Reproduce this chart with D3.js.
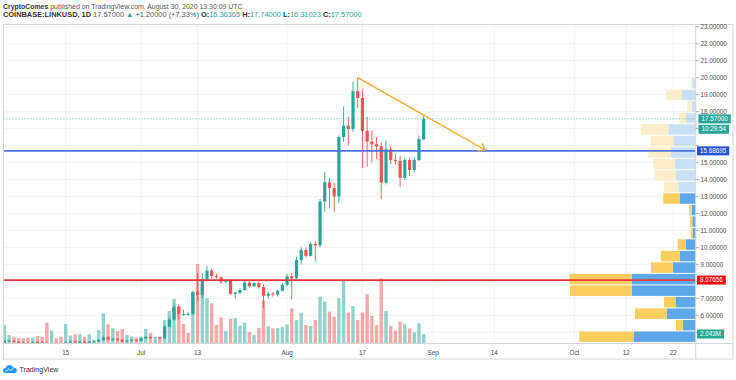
<!DOCTYPE html>
<html><head><meta charset="utf-8">
<script src="https://cdnjs.cloudflare.com/ajax/libs/d3/7.8.5/d3.min.js"></script>
<style>body{margin:0;background:#fff;} svg{display:block;font-family:"Liberation Sans",Arial,sans-serif;}</style>
</head><body><svg id="c" width="736" height="380"></svg>
<script>
// ---------- data ----------
const days = ["2020-06-02","2020-06-03","2020-06-04","2020-06-05","2020-06-06","2020-06-07","2020-06-08","2020-06-09","2020-06-10","2020-06-11",
"2020-06-12","2020-06-13","2020-06-14","2020-06-15","2020-06-16","2020-06-17","2020-06-18","2020-06-19","2020-06-20","2020-06-21",
"2020-06-22","2020-06-23","2020-06-24","2020-06-25","2020-06-26","2020-06-27","2020-06-28","2020-06-29","2020-06-30","2020-07-01",
"2020-07-02","2020-07-03","2020-07-04","2020-07-05","2020-07-06","2020-07-07","2020-07-08","2020-07-09","2020-07-10","2020-07-11",
"2020-07-12","2020-07-13","2020-07-14","2020-07-15","2020-07-16","2020-07-17","2020-07-18","2020-07-19","2020-07-20","2020-07-21",
"2020-07-22","2020-07-23","2020-07-24","2020-07-25","2020-07-26","2020-07-27","2020-07-28","2020-07-29","2020-07-30","2020-07-31",
"2020-08-01","2020-08-02","2020-08-03","2020-08-04","2020-08-05","2020-08-06","2020-08-07","2020-08-08","2020-08-09","2020-08-10",
"2020-08-11","2020-08-12","2020-08-13","2020-08-14","2020-08-15","2020-08-16","2020-08-17","2020-08-18","2020-08-19","2020-08-20",
"2020-08-21","2020-08-22","2020-08-23","2020-08-24","2020-08-25","2020-08-26","2020-08-27","2020-08-28","2020-08-29","2020-08-30"];
const open = [4.38,4.48,4.50,4.44,4.40,4.38,4.36,4.42,4.39,4.37,
4.20,4.32,4.28,4.25,4.40,4.45,4.40,4.43,4.38,4.44,
4.46,4.55,4.70,4.58,4.62,4.55,4.45,4.50,4.55,4.50,
4.65,4.72,4.66,4.70,4.65,5.33,5.75,6.50,6.05,6.04,
6.07,7.40,7.20,8.12,8.63,8.32,8.25,7.98,8.06,7.26,
7.33,7.49,7.93,7.72,7.90,7.66,7.15,7.28,7.22,7.45,
7.79,8.30,8.18,9.26,9.85,9.50,10.20,10.12,12.70,13.84,
13.50,13.00,16.50,17.17,16.97,19.20,18.80,16.86,16.23,16.07,
15.95,13.81,15.78,15.15,15.10,14.10,15.15,14.56,15.15,16.36365];
const high = [4.55,4.56,4.54,4.49,4.45,4.43,4.46,4.47,4.48,4.42,
4.36,4.36,4.33,4.45,4.52,4.50,4.48,4.47,4.48,4.49,
4.60,4.82,4.78,4.66,4.66,4.60,4.54,4.60,4.58,4.68,
4.78,4.76,4.74,4.73,5.42,5.90,6.70,6.62,6.32,6.20,
7.45,8.50,8.48,8.90,8.75,8.45,8.30,8.15,8.12,7.40,
7.60,8.05,8.00,7.95,8.00,7.80,7.40,7.38,7.50,7.90,
8.45,8.50,9.45,10.00,10.00,10.30,10.35,12.85,14.46,14.10,
13.80,16.60,18.30,17.70,19.76,20.00,19.30,17.70,16.90,16.50,
16.20,16.30,15.95,15.50,15.40,15.30,15.30,15.30,16.60,17.74];
const low = [4.30,4.42,4.40,4.36,4.35,4.30,4.33,4.35,4.34,4.10,
4.15,4.25,4.20,4.05,4.35,4.36,4.36,4.33,4.35,4.40,
4.42,4.50,4.52,4.50,4.48,4.40,4.42,4.46,4.46,4.48,
4.60,4.62,4.63,4.60,4.63,5.30,5.70,5.75,5.95,5.98,
6.05,6.85,7.00,8.02,8.15,8.15,7.85,7.90,7.20,7.00,
7.25,7.45,7.60,7.65,7.58,6.40,7.00,7.10,7.10,7.40,
7.70,6.95,8.15,9.00,9.40,9.45,9.17,10.00,12.10,12.30,
12.10,12.60,16.20,16.00,16.80,18.20,14.66,14.76,15.00,15.20,
12.84,13.70,14.90,14.90,13.55,13.95,14.20,14.40,15.10,16.31023];
const close = [4.48,4.50,4.44,4.40,4.38,4.36,4.42,4.39,4.37,4.20,
4.32,4.28,4.25,4.40,4.45,4.40,4.43,4.38,4.44,4.46,
4.55,4.70,4.58,4.62,4.55,4.45,4.50,4.55,4.50,4.65,
4.72,4.66,4.70,4.65,5.33,5.75,6.50,6.10,6.08,6.07,
7.36,7.20,8.12,8.63,8.32,8.25,7.98,8.06,7.26,7.33,
7.49,7.93,7.72,7.90,7.66,7.15,7.28,7.22,7.45,7.79,
8.30,8.18,9.26,9.85,9.50,10.20,10.12,12.70,13.84,13.50,
13.00,16.50,17.17,16.97,19.20,18.80,16.86,16.23,16.07,15.95,
13.81,15.78,15.15,15.10,14.10,15.15,14.56,15.15,16.38,17.57];
// volume, millions of LINK
const volume = [4.02,1.82,1.47,1.10,1.10,1.25,1.25,1.60,1.47,4.55,
2.79,1.10,1.47,4.24,1.69,1.98,1.98,1.47,1.98,0.73,
2.92,6.59,4.18,3.30,2.70,3.14,1.82,1.47,1.25,1.47,
3.14,2.20,0.95,1.47,5.12,7.10,9.74,8.07,4.24,2.31,
11.14,17.43,12.97,9.89,8.79,4.02,5.71,2.64,5.38,5.56,
3.85,4.55,2.53,1.82,3.36,9.45,3.74,3.30,3.34,3.56,
4.13,7.69,5.12,6.75,4.02,3.80,5.12,10.26,9.16,6.97,
5.87,9.89,13.91,6.75,8.20,5.12,6.75,10.77,6.00,4.02,
14.29,7.10,3.80,2.79,4.77,4.24,3.30,2.42,4.40,2.043];

const tickDates = ["2020-06-15","2020-07-01","2020-07-13","2020-08-01","2020-08-17","2020-09-01","2020-09-14","2020-10-01","2020-10-12","2020-10-22"];
const tickLabels = ["15","Jul","13","Aug","17","Sep","14","Oct","12","22"];
const priceTicks = [5,6,7,8,9,10,11,12,13,14,15,16,17,18,19,20,21,22,23];

// volume profile (visible range), rows from low to high
const profileLow = 4.40, profileHigh = 20.0;
const profileUp =   [61.7,13.0,29.0,19.7,64.0,64.0,23.0,15.7,9.7,3.0,3.3,4.0,15.7,17.4,19.7,20.7,25.0,22.4,27.4,9.7,4.0,14.0,3.5];
const profileDown = [54.7,6.7,31.7,12.0,61.7,62.4,21.7,19.0,8.3,2.0,2.3,2.3,16.7,14.3,21.7,21.7,22.4,22.6,27.6,6.7,4.4,15.7,1.0];
const valueAreaRows = 13;

const blueLevel = 15.68695, redLevel = 8.07656, lastPrice = 17.57, lastVolumeLabel = "2.043M", countdown = "10:29:54";
const trendFrom = ["2020-08-16", 20.0], trendTo = ["2020-09-12", 15.75];

// ---------- layout ----------
const svg = d3.select("#c");
const L = 3.5, R = 695.7, T = 24.5, B = 343.3;
const pd = d3.utcParse("%Y-%m-%d");
const x = d3.scaleUtc().domain([pd("2020-06-15"), pd("2020-10-22")]).range([65.7, 673.3]);
const y = d3.scaleLinear().domain([6, 23]).range([315.3, 26.7]);
const yv = d3.scaleLinear().domain([0, 20]).range([B, B - 91]);
const maxProf = d3.max(profileUp.map((u,i)=>u+profileDown[i]));
const pw = d3.scaleLinear().domain([0, maxProf]).range([0, 126.4]);
const rowStep = (profileHigh - profileLow) / profileUp.length;

const green = "#26a69a", red = "#ef5350";

svg.append("defs").append("clipPath").attr("id","plot").append("rect")
  .attr("x", L).attr("y", T).attr("width", R - L).attr("height", B - T);

// grid
const grid = svg.append("g");
priceTicks.forEach(p => {
  if (y(p) > T && y(p) < B) grid.append("line").attr("x1", L).attr("x2", R).attr("y1", y(p)).attr("y2", y(p))
    .attr("stroke", "#f1f3f6").attr("stroke-width", 1);
});
tickDates.forEach(d => {
  grid.append("line").attr("x1", x(pd(d))).attr("x2", x(pd(d))).attr("y1", T).attr("y2", B)
    .attr("stroke", "#f1f3f6").attr("stroke-width", 1);
});

const plot = svg.append("g").attr("clip-path", "url(#plot)");

// volumes
plot.append("g").selectAll("rect").data(days).join("rect")
  .attr("x", (d) => x(pd(d)) - 1.7).attr("width", 3.4)
  .attr("y", (d,i) => yv(volume[i])).attr("height", (d,i) => B - yv(volume[i]))
  .attr("fill", (d,i) => close[i] >= (i ? close[i-1] : open[i]) ? "rgba(38,166,154,0.5)" : "rgba(239,83,80,0.5)");

// volume profile
const prof = plot.append("g");
profileUp.forEach((u, i) => {
  const lo = profileLow + i * rowStep, hi = lo + rowStep;
  const y0 = y(hi) + 0.5, h = y(lo) - y(hi) - 1;
  const va = i < valueAreaRows;
  prof.append("rect").attr("x", R - pw(u)).attr("width", pw(u)).attr("y", y0).attr("height", h)
    .attr("fill", va ? "#5ea8ea" : "#c8e0f6");
  prof.append("rect").attr("x", R - pw(u) - pw(profileDown[i])).attr("width", pw(profileDown[i])).attr("y", y0).attr("height", h)
    .attr("fill", va ? "#f9cd5e" : "#fcedc9");
});

// candles
const cg = plot.append("g");
days.forEach((d, i) => {
  const cx = x(pd(d)), col = close[i] >= open[i] ? green : red;
  cg.append("line").attr("x1", cx).attr("x2", cx).attr("y1", y(high[i])).attr("y2", y(low[i]))
    .attr("stroke", col).attr("stroke-width", 0.9);
  const top = y(Math.max(open[i], close[i])), bot = y(Math.min(open[i], close[i]));
  cg.append("rect").attr("x", cx - 1.6).attr("width", 3.2).attr("y", top).attr("height", Math.max(0.9, bot - top)).attr("fill", col);
});

// horizontal lines
plot.append("line").attr("x1", L).attr("x2", R).attr("y1", y(lastPrice)).attr("y2", y(lastPrice))
  .attr("stroke", green).attr("stroke-width", 0.8).attr("stroke-dasharray", "1,2");
plot.append("line").attr("x1", L).attr("x2", R).attr("y1", y(blueLevel)).attr("y2", y(blueLevel))
  .attr("stroke", "#4b73d8").attr("stroke-width", 1.7);
plot.append("line").attr("x1", L).attr("x2", R).attr("y1", y(redLevel)).attr("y2", y(redLevel))
  .attr("stroke", "#e53935").attr("stroke-width", 1.7);

// trend arrow
const ax1 = x(pd(trendFrom[0])), ay1 = y(trendFrom[1]), ax2 = x(pd(trendTo[0])), ay2 = y(trendTo[1]);
plot.append("line").attr("x1", ax1).attr("y1", ay1).attr("x2", ax2).attr("y2", ay2)
  .attr("stroke", "#f6a623").attr("stroke-width", 1.3);
const ang = Math.atan2(ay2 - ay1, ax2 - ax1), al = 7;
[ang + Math.PI - 0.68, ang + Math.PI + 0.68].forEach(a => {
  plot.append("line").attr("x1", ax2).attr("y1", ay2).attr("x2", ax2 + al * Math.cos(a)).attr("y2", ay2 + al * Math.sin(a))
    .attr("stroke", "#f6a623").attr("stroke-width", 1.3).attr("stroke-linecap", "round");
});

// frame
const fr = svg.append("g").attr("stroke", "#d4d4d4").attr("stroke-width", 1).attr("fill", "none");
fr.append("rect").attr("x", L).attr("y", T).attr("width", 733 - L).attr("height", 359 - T);
fr.append("line").attr("x1", L).attr("x2", 733).attr("y1", B + 0.2).attr("y2", B + 0.2);
fr.append("line").attr("x1", R).attr("x2", R).attr("y1", T).attr("y2", 359);

// value boxes (centres)
const boxes = [
  {cy: y(lastPrice), txt: d3.format(".5f")(lastPrice), fill: "#26a69a", x0: 698.5},
  {cy: y(lastPrice) + 10.4, txt: countdown, fill: "#26a69a", x0: 698.5},
  {cy: y(blueLevel), txt: d3.format(".5f")(blueLevel), fill: "#2453d6", x0: 697},
  {cy: y(redLevel), txt: d3.format(".5f")(redLevel), fill: "#f50d0d", x0: 697},
  {cy: yv(volume[volume.length - 1]), txt: lastVolumeLabel, fill: "#22a98f", x0: 697}
];

// price axis (labels hidden under a value box are not drawn, as on the reference)
const pa = svg.append("g").attr("font-size", 6.3).attr("fill", "#4a4a4a");
priceTicks.forEach(p => {
  if (y(p) < T || y(p) > B) return;
  svg.append("line").attr("x1", R).attr("x2", R + 3).attr("y1", y(p)).attr("y2", y(p)).attr("stroke", "#9a9a9a").attr("stroke-width", 0.8);
  if (boxes.some(b => Math.abs(b.cy - y(p)) < 5.5)) return;
  pa.append("text").attr("x", 700.5).attr("y", y(p)).attr("dy", "0.35em").text(d3.format(".5f")(p));
});

// time axis
const ta = svg.append("g").attr("font-size", 6.3).attr("fill", "#4a4a4a").attr("text-anchor", "middle");
tickDates.forEach((d, i) => {
  ta.append("text").attr("x", x(pd(d))).attr("y", 354.5).text(tickLabels[i]);
});

boxes.forEach(b => {
  const g = svg.append("g");
  const t = g.append("text").attr("x", b.x0 + 3).attr("y", b.cy).attr("dy", "0.35em")
    .attr("font-size", 6.3).attr("fill", "#fff").text(b.txt);
  const w = t.node().getComputedTextLength();
  g.insert("rect", "text").attr("x", b.x0).attr("y", b.cy - 4.5).attr("width", w + 6).attr("height", 9).attr("fill", b.fill);
});

// header
function fit(sel, target) {
  const w = sel.node().getComputedTextLength();
  const fs = parseFloat(sel.attr("font-size"));
  sel.attr("font-size", fs * target / w);
}
const h1 = svg.append("text").attr("x", 3).attr("y", 8.6).attr("font-size", 7.5).attr("fill", "#555");
h1.append("tspan").attr("font-weight", "bold").attr("fill", "#333").text("CryptoComes");
h1.append("tspan").text(" published on TradingView.com, August 30, 2020 13:30:09 UTC");
fit(h1, 240);

const h2 = svg.append("text").attr("x", 3).attr("y", 17.4).attr("font-size", 7.5).attr("fill", "#555");
const teal = "#26a69a";
[["COINBASE:LINKUSD, 1D", "#333", true], [" 17.57000 ", "#555"], ["▲", teal], [" +1.20000 (+7.33%) ", "#555"],
 ["O:", "#333", true], ["16.36365", teal], [" H:", "#333", true], ["17.74000", teal],
 [" L:", "#333", true], ["16.31023", teal], [" C:", "#333", true], ["17.57000", teal]].forEach(s => {
  const t = h2.append("tspan").attr("fill", s[1]).text(s[0]);
  if (s[2]) t.attr("font-weight", "bold");
});
fit(h2, 359);

// TradingView logo
const lg = svg.append("g");
lg.append("path").attr("d", "M5,373 Q3,373 3,370.5 Q3,368 5.5,368 Q6.5,365 9.5,365 Q12.5,365 13.3,367.5 Q16.5,367.3 16.8,370 Q17,373 14.5,373 Z")
  .attr("fill", "#2196f3");
lg.append("polyline").attr("points", "5.5,371.5 8.5,369 10.5,370.5 14,367.8").attr("fill", "none").attr("stroke", "#fff").attr("stroke-width", 0.9);
const lt = svg.append("text").attr("x", 19.5).attr("y", 372.3).attr("font-size", 8).attr("fill", "#333").text("TradingView");
fit(lt, 39);
</script></body></html>
